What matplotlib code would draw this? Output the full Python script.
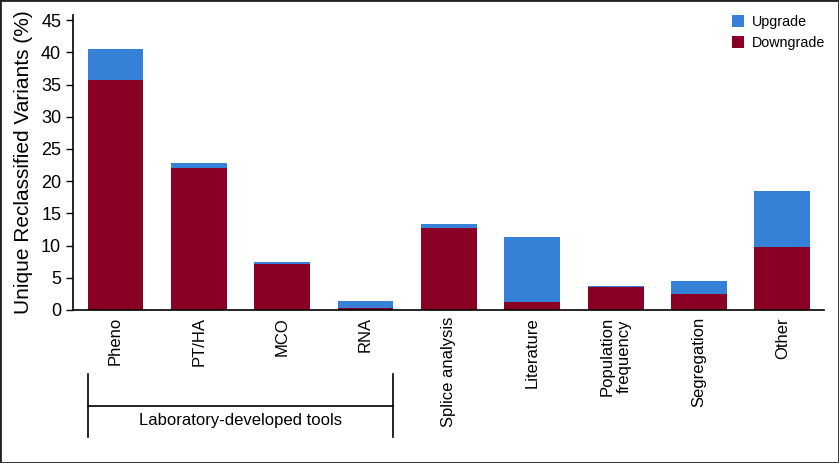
import matplotlib.pyplot as plt
from matplotlib.patches import Rectangle
import numpy as np

plt.rcParams['font.family'] = ['Liberation Sans', 'DejaVu Sans']

categories = ['Pheno', 'PT/HA', 'MCO', 'RNA', 'Splice analysis', 'Literature',
              'Population\nfrequency', 'Segregation', 'Other']
downgrade = [35.7, 22.1, 7.2, 0.3, 12.8, 1.2, 3.6, 2.5, 9.8]
upgrade = [4.8, 0.7, 0.2, 1.1, 0.5, 10.1, 0.2, 1.95, 8.6]
yticks = [0, 5, 10, 15, 20, 25, 30, 35, 40, 45]

blue = '#3481d7'
red = '#8a0025'

fig = plt.figure(figsize=(8.39, 4.63), dpi=100)
ax = fig.add_axes([73 / 839, 1 - 310 / 463, (824 - 73) / 839, (310 - 15) / 463])

x = np.arange(len(categories))
ax.bar(x, downgrade, width=0.67, color=red, label='Downgrade')
ax.bar(x, upgrade, width=0.67, bottom=downgrade, color=blue, label='Upgrade')

ax.set_xlim(-0.51, 8.5)
ax.set_ylim(0, 45.8)
ax.set_yticks(yticks)
ax.tick_params(axis='y', labelsize=13, length=5, width=1)
ax.set_xticks(x)
ax.set_xticklabels(categories, rotation=90, fontsize=12, va='top', ha='center',
                   multialignment='center')
ax.tick_params(axis='x', length=0, pad=5)
for s in ['top', 'right']:
    ax.spines[s].set_visible(False)
ax.spines['left'].set_linewidth(1.2)
ax.spines['bottom'].set_linewidth(1.2)
ax.set_ylabel('Unique Reclassified Variants (%)', fontsize=15, labelpad=6)

handles, labels = ax.get_legend_handles_labels()
ax.legend(handles[::-1], labels[::-1], loc='upper left', frameon=False, fontsize=10.3,
          bbox_to_anchor=(0.877, 1.0), handlelength=0.86, handleheight=0.86,
          handletextpad=0.55, labelspacing=0.5, borderaxespad=0, borderpad=0)

# bracket under the laboratory-developed tools
bx0, bx1 = 88 / 839, 393 / 839
ytop, ymid, ybot = 1 - 374 / 463, 1 - 406 / 463, 1 - 437 / 463
fig.add_artist(plt.Line2D([bx0, bx0], [ytop, ybot], color='black', lw=1.2))
fig.add_artist(plt.Line2D([bx1, bx1], [ytop, ybot], color='black', lw=1.2))
fig.add_artist(plt.Line2D([bx0, bx1], [ymid, ymid], color='black', lw=1.2))
fig.text((bx0 + bx1) / 2, 1 - 420 / 463, 'Laboratory-developed tools', ha='center',
         va='center', fontsize=12, family=['Liberation Sans Narrow', 'Liberation Sans'])

fig.add_artist(Rectangle((0, 0), 1, 1, transform=fig.transFigure, fill=False,
                         edgecolor='#222222', lw=2))

fig.savefig('out.png', dpi=100)
